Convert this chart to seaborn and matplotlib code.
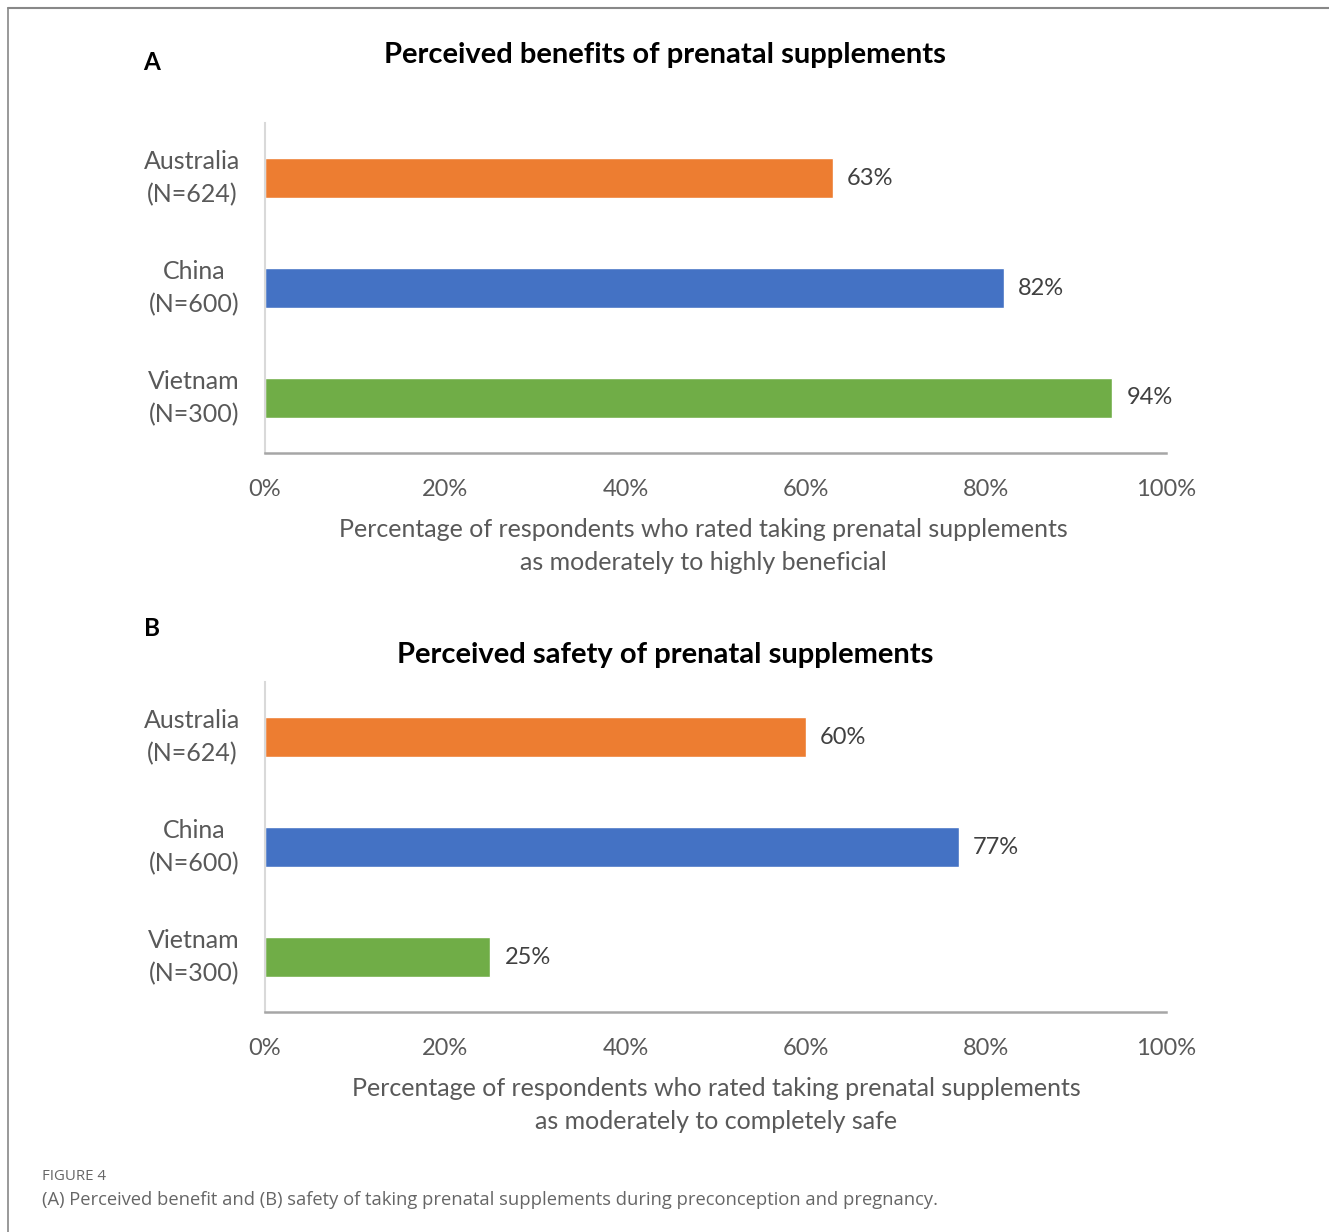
import matplotlib
matplotlib.use("Agg")
import matplotlib.pyplot as plt
import seaborn as sns
import pandas as pd
from matplotlib.lines import Line2D

sns.set_theme(style="white")
plt.rcParams["font.family"] = ["Lato", "DejaVu Sans"]

countries = ["Australia\n(N=624)", "China\n(N=600)", "Vietnam\n(N=300)"]
benefit = [63, 82, 94]
safety = [60, 77, 25]
colors = ["#ED7D31", "#4472C4", "#70AD47"]
ticks = [0, 20, 40, 60, 80, 100]

W, H = 1329, 1232
fig = plt.figure(figsize=(W / 100, H / 100), dpi=100)

# page frame
fig.add_artist(Line2D([8 / W, 1], [1 - 8 / H, 1 - 8 / H], color="#888888", lw=1.5))
fig.add_artist(Line2D([8 / W, 8 / W], [1 - 8 / H, 0], color="#888888", lw=1.2))


def panel(top, bottom, values, title, title_y, letter, letter_y, xlabel, label_x):
    ax = fig.add_axes([265 / W, 1 - bottom / H, (1166 - 265) / W, (bottom - top) / H])
    df = pd.DataFrame({"country": countries, "pct": values})
    sns.barplot(data=df, x="pct", y="country", hue="country", palette=colors,
                orient="h", width=0.37, legend=False, ax=ax, saturation=1)
    ax.set_xlim(0, 100)
    ax.set_ylim(2.5, -0.5)
    ax.set_xticks(ticks)
    ax.set_xticklabels([f"{t}%" for t in ticks])
    ax.tick_params(axis="x", length=0, pad=19, labelsize=17, labelcolor="#595959")
    ax.tick_params(axis="y", length=0, pad=18, labelsize=18, labelcolor="#595959")
    for t in ax.get_yticklabels():
        t.set_multialignment("center")
        t.set_linespacing(1.5)
        t.set_verticalalignment("center")
    for s in ["top", "right"]:
        ax.spines[s].set_visible(False)
    ax.spines["left"].set_color("#D9D9D9")
    ax.spines["left"].set_linewidth(1.5)
    ax.spines["bottom"].set_color("#A6A6A6")
    ax.spines["bottom"].set_linewidth(1.8)
    ax.set_ylabel("")
    ax.set_xlabel(xlabel, fontsize=18, color="#595959", linespacing=1.5)
    ax.xaxis.set_label_coords(label_x, -0.197)
    for i, v in enumerate(values):
        ax.text(v + 1.6, i, f"{v}%", va="center", ha="left", fontsize=17, color="#404040")
    fig.text(665 / W, 1 - title_y / H, title, ha="center", va="center",
             fontsize=21, fontweight="bold", color="black")
    fig.text(152 / W, 1 - letter_y / H, letter, ha="center", va="center",
             fontsize=17.5, fontweight="bold", color="black")
    return ax


panel(123, 453, benefit, "Perceived benefits of prenatal supplements", 55, "A", 62,
      "Percentage of respondents who rated taking prenatal supplements\nas moderately to highly beneficial",
      (703 - 265) / (1166 - 265))
panel(682, 1012, safety, "Perceived safety of prenatal supplements", 655, "B", 629,
      "Percentage of respondents who rated taking prenatal supplements\nas moderately to completely safe",
      (716 - 265) / (1166 - 265))

fig.text(42 / W, 1 - 1177 / H, "FIGURE 4", ha="left", va="center", fontsize=10.8,
         color="#666666", family=["Open Sans", "DejaVu Sans"])
fig.text(42 / W, 1 - 1200 / H,
         "(A) Perceived benefit and (B) safety of taking prenatal supplements during preconception and pregnancy.",
         ha="left", va="center", fontsize=13.2, color="#666666", family=["Open Sans", "DejaVu Sans"])

fig.savefig("out.png", dpi=100)
